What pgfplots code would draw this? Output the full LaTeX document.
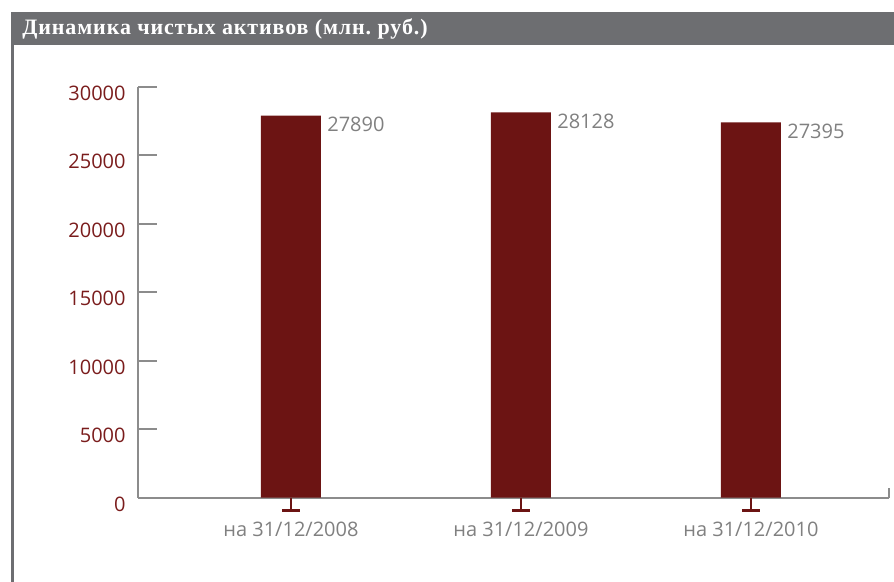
\documentclass[border=0pt]{standalone}
\usepackage{fontspec}
\setmainfont{Open Sans}
\newfontfamily\titlefont[LetterSpace=4]{Liberation Serif}
\usepackage{pgfplots}
\pgfplotsset{compat=1.18}

\definecolor{barred}{HTML}{6C1413}
\definecolor{labred}{HTML}{7A1C1C}
\definecolor{headgrey}{HTML}{6D6E71}
\definecolor{axisgrey}{HTML}{8C8C8C}
\definecolor{txtgrey}{HTML}{808080}

% inverted T under each category
\pgfdeclareplotmark{tee}{%
  \pgfsetlinewidth{1pt}%
  \pgfpathmoveto{\pgfqpoint{0pt}{0pt}}\pgfpathlineto{\pgfqpoint{0pt}{-6.2pt}}\pgfusepathqstroke
  \pgfsetlinewidth{1.5pt}%
  \pgfpathmoveto{\pgfqpoint{-4.5pt}{-6.2pt}}\pgfpathlineto{\pgfqpoint{4.5pt}{-6.2pt}}\pgfusepathqstroke}

\begin{document}
\begin{tikzpicture}
\useasboundingbox (0,0) rectangle (447pt,-291pt);
% header bar and left border
\fill[headgrey] (5.5pt,-6pt) rectangle (447pt,-22.5pt);
\draw[headgrey, line width=1.5pt] (6.25pt,-22.5pt) -- (6.25pt,-291pt);
\node[anchor=base west, inner sep=0pt, text=white, font=\titlefont\bfseries\fontsize{11}{13}\selectfont]
  at (11pt,-17.15pt) {Динамика чистых активов (млн.~руб.)};

\begin{axis}[
    at={(69pt,-248.85pt)}, anchor=south west,
    scale only axis,
    width=375.35pt, height=205.5pt,
    xmin=-0.665, xmax=2.599,
    ymin=0, ymax=30000,
    axis lines=left,
    axis line style={-, draw=axisgrey, line width=1pt},
    clip=false,
    ybar, bar width=30pt,
    xtick={0,1,2},
    xticklabels={на 31/12/2008, на 31/12/2009, на 31/12/2010},
    xtick style={draw=none},
    xticklabel style={anchor=north, inner sep=0pt, yshift=-12pt, text=txtgrey, font=\fontsize{10}{12}\selectfont},
    ytick={0,5000,10000,15000,20000,25000,30000},
    tick align=inside,
    major tick length=9.5pt,
    ytick style={draw=axisgrey, line width=1pt},
    yticklabel style={anchor=east, inner sep=0pt, xshift=-6pt, yshift=-3.3pt, text=labred, font=\fontsize{10}{12}\selectfont},
    scaled y ticks=false,
    /pgf/number format/.cd, 1000 sep={}, assume math mode=true,
]
\addplot[fill=barred, draw=none,
    nodes near coords,
    nodes near coords style={anchor=north west, inner sep=0pt, xshift=18pt, yshift=-0.7pt, text=txtgrey, font=\fontsize{10}{12}\selectfont}]
  coordinates {(0,27890) (1,28128) (2,27395)};
\addplot[only marks, mark=tee, draw=barred, forget plot]
  coordinates {(0,0) (1,0) (2,0)};
\draw[axisgrey, line width=1pt] (rel axis cs:1,0) -- (rel axis cs:1,0.024);
\end{axis}
\end{tikzpicture}
\end{document}
